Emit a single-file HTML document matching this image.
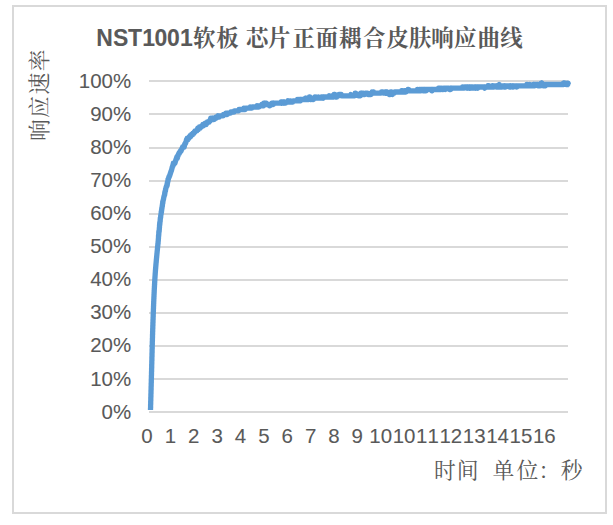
<!DOCTYPE html>
<html lang="zh"><head><meta charset="utf-8"><title>NST1001 response curve</title>
<style>html,body{margin:0;padding:0;background:#fff}body{width:613px;height:525px;overflow:hidden}svg{display:block}text{font-family:"Liberation Sans",sans-serif;fill:#595959}</style></head><body>
<svg width="613" height="525" viewBox="0 0 613 525">
<rect width="613" height="525" fill="#fff"/>
<rect x="13" y="6" width="593" height="507" fill="#fff" stroke="#d9d9d9" stroke-width="2"/>
<g stroke="#d9d9d9" stroke-width="2" shape-rendering="crispEdges">
<line x1="149" x2="568" y1="81" y2="81"/>
<line x1="149" x2="568" y1="114" y2="114"/>
<line x1="149" x2="568" y1="148" y2="148"/>
<line x1="149" x2="568" y1="181" y2="181"/>
<line x1="149" x2="568" y1="214" y2="214"/>
<line x1="149" x2="568" y1="247" y2="247"/>
<line x1="149" x2="568" y1="280" y2="280"/>
<line x1="149" x2="568" y1="313" y2="313"/>
<line x1="149" x2="568" y1="346" y2="346"/>
<line x1="149" x2="568" y1="379" y2="379"/>
<line x1="149" x2="568" y1="412" y2="412"/>
</g>
<text transform="translate(0 87.50) scale(1 1.025)" x="78.77 90.17 101.57 112.97" y="0" font-size="20.5" stroke="#595959" stroke-width="0.08">100%</text>
<text transform="translate(0 120.62) scale(1 1.025)" x="90.17 101.57 112.97" y="0" font-size="20.5" stroke="#595959" stroke-width="0.08">90%</text>
<text transform="translate(0 153.74) scale(1 1.025)" x="90.17 101.57 112.97" y="0" font-size="20.5" stroke="#595959" stroke-width="0.08">80%</text>
<text transform="translate(0 186.86) scale(1 1.025)" x="90.17 101.57 112.97" y="0" font-size="20.5" stroke="#595959" stroke-width="0.08">70%</text>
<text transform="translate(0 219.98) scale(1 1.025)" x="90.17 101.57 112.97" y="0" font-size="20.5" stroke="#595959" stroke-width="0.08">60%</text>
<text transform="translate(0 253.10) scale(1 1.025)" x="90.17 101.57 112.97" y="0" font-size="20.5" stroke="#595959" stroke-width="0.08">50%</text>
<text transform="translate(0 286.22) scale(1 1.025)" x="90.17 101.57 112.97" y="0" font-size="20.5" stroke="#595959" stroke-width="0.08">40%</text>
<text transform="translate(0 319.34) scale(1 1.025)" x="90.17 101.57 112.97" y="0" font-size="20.5" stroke="#595959" stroke-width="0.08">30%</text>
<text transform="translate(0 352.46) scale(1 1.025)" x="90.17 101.57 112.97" y="0" font-size="20.5" stroke="#595959" stroke-width="0.08">20%</text>
<text transform="translate(0 385.58) scale(1 1.025)" x="90.17 101.57 112.97" y="0" font-size="20.5" stroke="#595959" stroke-width="0.08">10%</text>
<text transform="translate(0 418.70) scale(1 1.025)" x="101.57 112.97" y="0" font-size="20.5" stroke="#595959" stroke-width="0.08">0%</text>
<text transform="translate(0 442.60) scale(1 1.025)" x="141.30" y="0" font-size="20.5" stroke="#595959" stroke-width="0.08">0</text>
<text transform="translate(0 442.60) scale(1 1.025)" x="164.67" y="0" font-size="20.5" stroke="#595959" stroke-width="0.08">1</text>
<text transform="translate(0 442.60) scale(1 1.025)" x="188.04" y="0" font-size="20.5" stroke="#595959" stroke-width="0.08">2</text>
<text transform="translate(0 442.60) scale(1 1.025)" x="211.41" y="0" font-size="20.5" stroke="#595959" stroke-width="0.08">3</text>
<text transform="translate(0 442.60) scale(1 1.025)" x="234.78" y="0" font-size="20.5" stroke="#595959" stroke-width="0.08">4</text>
<text transform="translate(0 442.60) scale(1 1.025)" x="258.15" y="0" font-size="20.5" stroke="#595959" stroke-width="0.08">5</text>
<text transform="translate(0 442.60) scale(1 1.025)" x="281.52" y="0" font-size="20.5" stroke="#595959" stroke-width="0.08">6</text>
<text transform="translate(0 442.60) scale(1 1.025)" x="304.89" y="0" font-size="20.5" stroke="#595959" stroke-width="0.08">7</text>
<text transform="translate(0 442.60) scale(1 1.025)" x="328.26" y="0" font-size="20.5" stroke="#595959" stroke-width="0.08">8</text>
<text transform="translate(0 442.60) scale(1 1.025)" x="351.63" y="0" font-size="20.5" stroke="#595959" stroke-width="0.08">9</text>
<text transform="translate(0 442.60) scale(1 1.025)" x="369.30 380.70" y="0" font-size="20.5" stroke="#595959" stroke-width="0.08">10</text>
<text transform="translate(0 442.60) scale(1 1.025)" x="392.67 404.07" y="0" font-size="20.5" stroke="#595959" stroke-width="0.08">10</text>
<text transform="translate(0 442.60) scale(1 1.025)" x="416.04 427.44" y="0" font-size="20.5" stroke="#595959" stroke-width="0.08">11</text>
<text transform="translate(0 442.60) scale(1 1.025)" x="439.41 450.81" y="0" font-size="20.5" stroke="#595959" stroke-width="0.08">12</text>
<text transform="translate(0 442.60) scale(1 1.025)" x="462.78 474.18" y="0" font-size="20.5" stroke="#595959" stroke-width="0.08">13</text>
<text transform="translate(0 442.60) scale(1 1.025)" x="486.15 497.55" y="0" font-size="20.5" stroke="#595959" stroke-width="0.08">14</text>
<text transform="translate(0 442.60) scale(1 1.025)" x="509.52 520.92" y="0" font-size="20.5" stroke="#595959" stroke-width="0.08">15</text>
<text transform="translate(0 442.60) scale(1 1.025)" x="532.89 544.29" y="0" font-size="20.5" stroke="#595959" stroke-width="0.08">16</text>
<text transform="translate(0 45.60) scale(1 1.025)" x="96.30 113.10 128.05 142.15 154.40 167.10 180.10" y="0" font-size="23" font-weight="bold" stroke="#595959" stroke-width="0.08">NST1001</text>
<text x="193.05 216.15 238 246.1 268.1 292.4 315.8 339.0 362.9 386.4 409.0 431.2 453.9 477.4 500.2" y="45.96" font-size="22.4" font-weight="bold" fill="#595959" style="font-family:'Liberation Serif','Noto Serif CJK SC',serif">软板 芯片正面耦合皮肤响应曲线</text>
<text x="433.9 456.8 478 492.4 516.4 538.6 560.65" y="477.58" font-size="21.8" fill="#595959" style="font-family:'Liberation Serif','Noto Serif CJK SC',serif">时间 单位：秒</text>
<text transform="rotate(-90)" x="-141.0 -117.95 -94.4 -71.35" y="46.58" font-size="21.8" fill="#595959" style="font-family:'Liberation Serif','Noto Serif CJK SC',serif">响应速率</text>
<path d="M150.5 410.0L150.5 409.7L150.5 409.4L150.5 409.1L150.5 408.8L150.5 408.5L150.5 408.2L150.6 407.9L150.6 407.6L150.6 407.3L150.6 407.0L150.6 406.7L150.6 406.4L150.6 406.1L150.6 405.8L150.6 405.5L150.6 405.2L150.6 404.9L150.6 404.6L150.7 404.3L150.7 404.0L150.7 403.7L150.7 403.4L150.7 403.1L150.7 402.8L150.7 402.5L150.7 402.2L150.7 401.9L150.7 401.6L150.7 401.3L150.7 401.0L150.8 400.7L150.8 400.4L150.8 400.1L150.8 399.8L150.8 399.5L150.8 399.2L150.8 398.9L150.8 398.6L150.8 398.3L150.8 398.0L150.8 397.7L150.8 397.4L150.9 397.1L150.9 396.8L150.9 396.5L150.9 396.2L150.9 395.9L150.9 395.6L150.9 395.3L150.9 395.0L150.9 394.7L150.9 394.4L150.9 394.1L150.9 393.8L151.0 393.5L151.0 393.2L151.0 392.9L151.0 392.6L151.0 392.3L151.0 392.0L151.0 391.7L151.0 391.4L151.0 391.1L151.0 390.8L151.0 390.5L151.0 390.2L151.1 389.9L151.1 389.6L151.1 389.3L151.1 389.0L151.1 388.7L151.1 388.4L151.1 388.1L151.1 387.8L151.1 387.5L151.1 387.2L151.1 386.9L151.1 386.6L151.2 386.3L151.2 386.0L151.2 385.7L151.2 385.4L151.2 385.1L151.2 384.8L151.2 384.5L151.2 384.2L151.2 383.9L151.2 383.6L151.2 383.3L151.2 383.0L151.3 382.7L151.3 382.4L151.3 382.1L151.3 381.8L151.3 381.5L151.3 381.2L151.3 380.9L151.3 380.6L151.3 380.3L151.3 380.0L151.3 379.7L151.3 379.4L151.3 379.1L151.4 378.8L151.4 378.5L151.4 378.2L151.4 377.9L151.4 377.6L151.4 377.3L151.4 377.0L151.4 376.7L151.4 376.4L151.4 376.1L151.4 375.8L151.4 375.5L151.5 375.2L151.5 374.9L151.5 374.6L151.5 374.3L151.5 374.0L151.5 373.7L151.5 373.4L151.5 373.1L151.5 372.8L151.5 372.5L151.5 372.2L151.5 371.9L151.6 371.6L151.6 371.3L151.6 371.0L151.6 370.7L151.6 370.4L151.6 370.1L151.6 369.8L151.6 369.5L151.6 369.2L151.6 368.9L151.6 368.6L151.6 368.3L151.7 368.0L151.7 367.7L151.7 367.4L151.7 367.1L151.7 366.8L151.7 366.5L151.7 366.2L151.7 365.9L151.7 365.6L151.7 365.3L151.7 365.0L151.7 364.7L151.7 364.4L151.8 364.1L151.8 363.8L151.8 363.5L151.8 363.2L151.8 362.9L151.8 362.6L151.8 362.3L151.8 362.0L151.8 361.7L151.8 361.4L151.8 361.1L151.8 360.8L151.9 360.5L151.9 360.2L151.9 359.9L151.9 359.6L151.9 359.3L151.9 359.0L151.9 358.7L151.9 358.4L151.9 358.1L151.9 357.8L151.9 357.5L151.9 357.2L151.9 356.9L152.0 356.6L152.0 356.3L152.0 356.0L152.0 355.7L152.0 355.4L152.0 355.1L152.0 354.8L152.0 354.5L152.0 354.2L152.0 353.9L152.0 353.6L152.0 353.3L152.0 353.0L152.1 352.7L152.1 352.4L152.1 352.1L152.1 351.8L152.1 351.5L152.1 351.2L152.1 350.9L152.1 350.6L152.1 350.3L152.1 350.0L152.1 349.7L152.1 349.4L152.1 349.1L152.2 348.8L152.2 348.5L152.2 348.2L152.2 347.9L152.2 347.6L152.2 347.3L152.2 347.0L152.2 346.7L152.2 346.4L152.2 346.1L152.2 345.8L152.2 345.5L152.2 345.2L152.3 344.9L152.3 344.6L152.3 344.3L152.3 344.0L152.3 343.7L152.3 343.4L152.3 343.1L152.3 342.8L152.3 342.5L152.3 342.2L152.3 341.9L152.3 341.6L152.4 341.3L152.4 341.0L152.4 340.7L152.4 340.4L152.4 340.1L152.4 339.8L152.4 339.5L152.4 339.2L152.4 338.9L152.4 338.6L152.4 338.3L152.5 338.0L152.5 337.7L152.5 337.4L152.5 337.1L152.5 336.8L152.5 336.5L152.5 336.2L152.5 335.9L152.5 335.6L152.5 335.3L152.5 335.0L152.5 334.7L152.6 334.4L152.6 334.1L152.6 333.8L152.6 333.5L152.6 333.2L152.6 332.9L152.6 332.6L152.6 332.3L152.6 332.0L152.6 331.7L152.7 331.4L152.7 331.1L152.7 330.8L152.7 330.5L152.7 330.2L152.7 329.9L152.7 329.6L152.7 329.3L152.7 329.0L152.7 328.7L152.8 328.4L152.8 328.1L152.8 327.8L152.8 327.5L152.8 327.2L152.8 326.9L152.8 326.6L152.8 326.3L152.8 326.0L152.8 325.7L152.9 325.4L152.9 325.1L152.9 324.8L152.9 324.5L152.9 324.2L152.9 323.9L152.9 323.6L152.9 323.3L152.9 323.0L152.9 322.7L153.0 322.4L153.0 322.1L153.0 321.8L153.0 321.5L153.0 321.2L153.0 320.9L153.0 320.6L153.0 320.3L153.0 320.0L153.0 319.7L153.1 319.4L153.1 319.1L153.1 318.8L153.1 318.5L153.1 318.2L153.1 317.9L153.1 317.6L153.1 317.3L153.1 317.0L153.2 316.7L153.2 316.4L153.2 316.1L153.2 315.8L153.2 315.5L153.2 315.2L153.2 314.9L153.2 314.6L153.2 314.3L153.2 314.0L153.3 313.7L153.3 313.4L153.3 313.1L153.3 312.8L153.3 312.5L153.3 312.2L153.3 311.9L153.3 311.6L153.4 311.3L153.4 311.0L153.4 310.7L153.4 310.4L153.4 310.1L153.4 309.8L153.4 309.5L153.4 309.2L153.4 308.9L153.5 308.6L153.5 308.3L153.5 308.0L153.5 307.7L153.5 307.4L153.5 307.1L153.5 306.8L153.5 306.5L153.5 306.2L153.6 305.9L153.6 305.6L153.6 305.3L153.6 305.0L153.6 304.7L153.6 304.4L153.6 304.1L153.6 303.8L153.7 303.5L153.7 303.2L153.7 302.9L153.7 302.6L153.7 302.3L153.7 302.0L153.7 301.7L153.7 301.4L153.8 301.1L153.8 300.8L153.8 300.5L153.8 300.2L153.8 299.9L153.8 299.6L153.8 299.3L153.8 299.0L153.9 298.7L153.9 298.4L153.9 298.1L153.9 297.8L153.9 297.5L153.9 297.2L153.9 296.9L154.0 296.6L154.0 296.3L154.0 296.0L154.0 295.7L154.0 295.4L154.0 295.1L154.0 294.8L154.0 294.5L154.1 294.2L154.1 294.0L154.1 293.7L154.1 293.4L154.1 293.1L154.1 292.8L154.1 292.5L154.2 292.2L154.2 291.9L154.2 291.6L154.2 291.3L154.2 291.0L154.2 290.7L154.2 290.4L154.3 290.1L154.3 289.8L154.3 289.5L154.3 289.2L154.3 288.9L154.3 288.6L154.4 288.3L154.4 288.0L154.4 287.7L154.4 287.4L154.4 287.1L154.4 286.8L154.4 286.5L154.5 286.2L154.5 285.9L154.5 285.6L154.5 285.3L154.5 285.0L154.5 284.7L154.6 284.4L154.6 284.1L154.6 283.8L154.6 283.5L154.6 283.2L154.6 282.9L154.7 282.6L154.7 282.3L154.7 282.0L154.7 281.7L154.7 281.4L154.7 281.1L154.8 280.8L154.8 280.5L154.8 280.2L154.8 279.9L154.8 279.6L154.8 279.3L154.9 279.0L154.9 278.7L154.9 278.4L154.9 278.1L154.9 277.8L155.0 277.5L155.0 277.2L155.0 276.9L155.0 276.6L155.0 276.3L155.1 276.0L155.1 275.7L155.1 275.4L155.1 275.1L155.1 274.8L155.2 274.5L155.2 274.2L155.2 273.9L155.2 273.6L155.2 273.3L155.3 273.0L155.3 272.7L155.3 272.4L155.3 272.1L155.4 271.8L155.4 271.5L155.4 271.2L155.4 270.9L155.4 270.6L155.5 270.3L155.5 270.0L155.5 269.7L155.5 269.4L155.6 269.1L155.6 268.8L155.6 268.5L155.6 268.2L155.7 267.9L155.7 267.6L155.7 267.3L155.7 267.0L155.8 266.7L155.8 266.4L155.8 266.1L155.8 265.8L155.9 265.5L155.9 265.2L155.9 264.9L155.9 264.6L156.0 264.3L156.0 264.0L156.0 263.7L156.0 263.4L156.1 263.1L156.1 262.8L156.1 262.5L156.2 262.2L156.2 261.9L156.2 261.6L156.2 261.3L156.3 261.0L156.3 260.7L156.3 260.4L156.3 260.1L156.4 259.8L156.4 259.5L156.4 259.2L156.5 258.9L156.5 258.6L156.5 258.3L156.5 258.0L156.6 257.7L156.6 257.4L156.6 257.2L156.7 256.9L156.7 256.6L156.7 256.3L156.7 256.0L156.8 255.7L156.8 255.4L156.8 255.1L156.9 254.8L156.9 254.5L156.9 254.2L156.9 253.9L157.0 253.6L157.0 253.3L157.0 253.0L157.1 252.7L157.1 252.4L157.1 252.1L157.1 251.8L157.2 251.5L157.2 251.2L157.2 250.9L157.3 250.6L157.3 250.3L157.3 250.0L157.4 249.7L157.4 249.4L157.4 249.1L157.4 248.8L157.5 248.5L157.5 248.2L157.5 247.9L157.6 247.6L157.6 247.3L157.6 247.0L157.6 246.7L157.7 246.4L157.7 246.1L157.7 245.8L157.8 245.5L157.8 245.2L157.8 244.9L157.9 244.6L157.9 244.3L157.9 244.0L157.9 243.7L158.0 243.4L158.0 243.1L158.0 243.2L158.1 243.2L158.1 242.0L158.1 242.0L158.1 242.0L158.2 240.8L158.2 240.8L158.2 240.8L158.3 240.8L158.3 240.8L158.3 239.5L158.3 239.5L158.4 239.5L158.4 238.2L158.4 238.2L158.5 238.2L158.5 238.2L158.5 238.2L158.5 235.8L158.6 235.8L158.6 235.8L158.6 235.8L158.7 234.5L158.7 235.8L158.7 235.8L158.7 234.5L158.8 234.5L158.8 233.2L158.8 233.2L158.8 232.0L158.9 233.2L158.9 232.0L158.9 232.0L159.0 232.0L159.0 230.8L159.0 232.0L159.0 232.0L159.1 232.0L159.1 232.0L159.1 232.0L159.2 230.8L159.2 230.8L159.2 230.8L159.2 230.8L159.3 229.5L159.3 229.5L159.3 229.5L159.3 228.2L159.4 228.2L159.4 228.2L159.4 228.2L159.5 227.0L159.5 227.0L159.5 227.0L159.5 225.8L159.6 224.5L159.6 224.5L159.6 224.5L159.7 224.5L159.7 223.2L159.7 224.5L159.8 224.5L159.8 223.2L159.8 223.2L159.9 223.2L159.9 223.2L159.9 222.0L159.9 223.2L160.0 222.0L160.0 222.0L160.0 222.0L160.1 222.0L160.1 222.0L160.1 222.0L160.2 220.8L160.2 220.8L160.2 219.5L160.3 219.5L160.3 219.5L160.3 218.2L160.4 218.2L160.4 218.2L160.4 218.2L160.5 218.2L160.5 218.2L160.6 217.0L160.6 217.0L160.6 217.0L160.7 217.0L160.7 215.8L160.7 215.8L160.8 215.8L160.8 215.8L160.9 214.5L160.9 214.5L160.9 214.5L161.0 214.5L161.0 214.5L161.1 213.2L161.1 213.2L161.1 213.2L161.2 213.2L161.2 212.0L161.3 212.0L161.3 212.0L161.4 212.0L161.4 212.0L161.4 212.0L161.5 212.0L161.5 212.0L161.6 209.5L161.6 209.5L161.7 209.5L161.7 209.5L161.8 209.5L161.8 208.2L161.9 208.2L161.9 208.2L162.0 208.2L162.0 208.2L162.1 207.0L162.1 207.0L162.2 205.8L162.2 205.8L162.3 205.8L162.3 205.8L162.4 205.8L162.4 204.5L162.5 204.5L162.5 204.5L162.6 203.2L162.6 203.2L162.7 203.2L162.7 202.0L162.8 203.2L162.8 203.2L162.9 202.0L163.0 200.8L163.0 200.8L163.1 200.8L163.1 200.8L163.2 200.8L163.2 200.8L163.3 199.5L163.4 199.5L163.4 199.5L163.5 199.5L163.5 199.5L163.6 198.2L163.7 198.2L163.7 198.2L163.8 197.0L163.8 197.0L163.9 197.0L164.0 197.0L164.0 197.0L164.1 195.8L164.1 195.8L164.2 195.8L164.3 195.8L164.3 195.8L164.4 195.8L164.5 194.5L164.5 194.5L164.6 194.5L164.7 194.5L164.7 193.2L164.8 193.2L164.9 193.2L164.9 192.0L165.0 192.0L165.1 192.0L165.1 192.0L165.2 190.8L165.3 190.8L165.3 190.8L165.4 190.8L165.5 190.8L165.5 189.5L165.6 189.5L165.7 189.5L165.7 189.5L165.8 188.2L165.9 188.2L166.0 188.2L166.0 188.2L166.1 187.0L166.2 187.0L166.2 187.0L166.3 187.0L166.4 187.0L166.5 185.8L166.5 185.8L166.6 185.8L166.7 185.8L166.7 185.8L166.8 185.8L166.9 185.8L167.0 185.8L167.0 184.5L167.1 184.5L167.2 184.5L167.3 184.5L167.3 183.2L167.4 182.0L167.5 183.2L167.6 182.0L167.7 182.0L167.7 182.0L167.8 182.0L167.9 180.8L168.0 180.8L168.0 179.5L168.1 179.5L168.2 179.5L168.3 179.5L168.4 179.5L168.5 178.2L168.6 178.2L168.6 178.2L168.7 178.2L168.8 177.0L168.9 177.0L169.0 177.0L169.1 177.0L169.2 177.0L169.3 177.0L169.4 175.8L169.5 175.8L169.6 175.8L169.7 175.8L169.8 175.8L169.9 174.5L170.0 174.5L170.1 174.5L170.2 174.5L170.3 173.2L170.4 173.2L170.5 173.2L170.6 173.2L170.7 172.0L170.8 172.0L170.9 172.0L171.0 172.0L171.1 170.8L171.3 170.8L171.4 170.8L171.5 170.8L171.6 169.5L171.7 169.5L171.8 169.5L171.9 168.2L172.0 168.2L172.1 168.2L172.2 167.0L172.3 167.0L172.4 167.0L172.6 167.0L172.7 165.8L172.8 165.8L172.9 165.8L173.0 164.5L173.1 165.8L173.2 164.5L173.3 163.2L173.4 163.2L173.6 164.5L173.7 164.5L173.8 164.5L173.9 163.2L174.0 163.2L174.1 163.2L174.3 163.2L174.4 163.2L174.5 163.2L174.6 163.2L174.7 163.2L174.9 163.2L175.0 163.2L175.1 162.0L175.2 162.0L175.3 162.0L175.5 160.8L175.6 160.8L175.7 160.8L175.9 159.5L176.0 159.5L176.1 159.5L176.2 159.5L176.4 158.2L176.5 158.2L176.6 158.2L176.8 157.0L176.9 158.2L177.0 158.2L177.2 158.2L177.3 158.2L177.5 157.0L177.6 155.8L177.7 155.8L177.9 155.8L178.0 155.8L178.2 155.8L178.3 154.5L178.5 154.5L178.6 154.5L178.8 154.5L178.9 153.2L179.1 153.2L179.2 153.2L179.4 153.2L179.5 153.2L179.7 152.0L179.8 152.0L180.0 152.0L180.1 152.0L180.3 152.0L180.4 150.8L180.6 150.8L180.7 150.8L180.9 150.8L181.1 150.8L181.2 150.8L181.4 149.5L181.5 149.5L181.7 149.5L181.8 149.5L182.0 148.2L182.2 148.2L182.3 148.2L182.5 148.2L182.6 147.0L182.8 147.0L182.9 147.0L183.1 147.0L183.3 147.0L183.4 147.0L183.6 147.0L183.7 147.0L183.9 147.0L184.1 147.0L184.2 147.0L184.4 145.8L184.5 144.5L184.7 144.5L184.9 144.5L185.0 144.5L185.2 143.2L185.3 143.2L185.5 143.2L185.7 143.2L185.8 142.0L186.0 142.0L186.2 142.0L186.3 140.8L186.5 139.5L186.7 139.5L186.8 139.5L187.0 139.5L187.2 139.5L187.3 138.2L187.5 139.5L187.7 139.5L187.9 139.5L188.0 139.5L188.2 138.2L188.4 138.2L188.6 138.2L188.8 138.2L188.9 138.2L189.1 137.0L189.3 137.0L189.5 137.0L189.7 137.0L189.9 137.0L190.1 135.8L190.3 137.0L190.5 135.8L190.7 135.8L190.9 135.8L191.1 135.8L191.3 135.8L191.5 134.5L191.7 134.5L191.9 134.5L192.1 134.5L192.3 134.5L192.5 134.5L192.7 134.5L192.9 133.2L193.1 133.2L193.3 133.2L193.6 133.2L193.8 133.2L194.0 133.2L194.2 132.0L194.4 132.0L194.6 132.0L194.9 132.0L195.1 130.8L195.3 130.8L195.5 130.8L195.8 130.8L196.0 130.8L196.2 130.8L196.4 130.8L196.7 130.8L196.9 130.8L197.1 129.5L197.3 129.5L197.6 129.5L197.8 128.2L198.0 129.5L198.3 129.5L198.5 128.2L198.7 128.2L199.0 128.2L199.2 128.2L199.4 127.0L199.6 128.2L199.9 128.2L200.1 127.0L200.4 127.0L200.6 127.0L200.8 127.0L201.1 127.0L201.3 127.0L201.6 125.8L201.8 125.8L202.0 125.8L202.3 125.8L202.5 125.8L202.8 124.5L203.0 124.5L203.3 125.8L203.5 124.5L203.8 124.5L204.0 124.5L204.3 124.5L204.5 124.5L204.8 124.5L205.0 124.5L205.3 123.2L205.6 124.5L205.8 124.5L206.1 124.5L206.3 123.2L206.6 123.2L206.8 123.2L207.1 123.2L207.3 122.0L207.6 122.0L207.9 122.0L208.1 122.0L208.4 122.0L208.6 122.0L208.9 122.0L209.2 122.0L209.4 120.8L209.7 120.8L209.9 120.8L210.2 120.8L210.5 119.5L210.7 118.2L211.0 118.2L211.3 118.2L211.5 118.2L211.8 118.2L212.1 118.2L212.3 118.2L212.6 119.5L212.9 118.2L213.2 119.5L213.4 119.5L213.7 118.2L214.0 118.2L214.2 119.5L214.5 118.2L214.8 118.2L215.1 118.2L215.3 118.2L215.6 118.2L215.9 118.2L216.2 117.0L216.4 118.2L216.7 117.0L217.0 117.0L217.3 117.0L217.5 117.0L217.8 117.0L218.1 115.8L218.4 117.0L218.6 117.0L218.9 117.0L219.2 117.0L219.5 115.8L219.8 115.8L220.0 115.8L220.3 115.8L220.6 115.8L220.9 115.8L221.1 115.8L221.4 115.8L221.7 115.8L222.0 115.8L222.3 115.8L222.5 115.8L222.8 115.8L223.1 115.8L223.4 114.5L223.7 114.5L224.0 114.5L224.2 114.5L224.5 114.5L224.8 114.5L225.1 114.5L225.4 114.5L225.7 114.5L226.0 113.2L226.2 114.5L226.5 113.2L226.8 113.2L227.1 113.2L227.4 114.5L227.7 113.2L228.0 113.2L228.2 113.2L228.5 113.2L228.8 113.2L229.1 113.2L229.4 113.2L229.7 113.2L230.0 113.2L230.2 113.2L230.5 113.2L230.8 112.0L231.1 112.0L231.4 112.0L231.7 112.0L232.0 112.0L232.3 112.0L232.5 112.0L232.8 112.0L233.1 112.0L233.4 112.0L233.7 112.0L234.0 112.0L234.3 110.8L234.6 110.8L234.8 110.8L235.1 110.8L235.4 110.8L235.7 110.8L236.0 110.8L236.3 110.8L236.6 110.8L236.9 110.8L237.2 110.8L237.4 110.8L237.7 110.8L238.0 110.8L238.3 110.8L238.6 110.8L238.9 109.5L239.2 109.5L239.5 109.5L239.8 109.5L240.1 109.5L240.4 109.5L240.6 109.5L240.9 109.5L241.2 109.5L241.5 109.5L241.8 109.5L242.1 109.5L242.4 109.5L242.7 109.5L243.0 109.5L243.3 109.5L243.6 109.5L243.9 108.2L244.2 109.5L244.4 109.5L244.7 109.5L245.0 109.5L245.3 109.5L245.6 108.2L245.9 108.2L246.2 108.2L246.5 108.2L246.8 108.2L247.1 108.2L247.4 108.2L247.7 108.2L248.0 108.2L248.3 108.2L248.6 108.2L248.9 108.2L249.2 108.2L249.5 108.2L249.7 108.2L250.0 108.2L250.3 107.0L250.6 108.2L250.9 108.2L251.2 108.2L251.5 108.2L251.8 108.2L252.1 107.0L252.4 107.0L252.7 107.0L253.0 107.0L253.3 107.0L253.6 107.0L253.9 107.0L254.2 107.0L254.5 107.0L254.7 107.0L255.0 107.0L255.3 107.0L255.6 107.0L255.9 107.0L256.2 107.0L256.5 107.0L256.8 107.0L257.1 105.8L257.4 107.0L257.7 107.0L258.0 105.8L258.3 105.8L258.6 105.8L258.9 107.0L259.2 105.8L259.5 105.8L259.8 105.8L260.0 105.8L260.3 105.8L260.6 105.8L260.9 105.8L261.2 105.8L261.5 105.8L261.8 104.5L262.1 105.8L262.4 104.5L262.7 105.8L263.0 105.8L263.3 104.5L263.6 105.8L263.9 103.2L264.2 104.5L264.5 103.2L264.8 103.2L265.1 104.5L265.4 104.5L265.7 103.2L266.0 104.5L266.3 103.2L266.6 104.5L266.9 104.5L267.2 104.5L267.5 104.5L267.8 104.5L268.0 104.5L268.3 104.5L268.6 104.5L268.9 104.5L269.2 104.5L269.5 105.8L269.8 105.8L270.1 104.5L270.4 104.5L270.7 104.5L271.0 104.5L271.3 104.5L271.6 104.5L271.9 103.2L272.2 104.5L272.5 104.5L272.8 104.5L273.1 103.2L273.4 104.5L273.7 103.2L274.0 103.2L274.3 103.2L274.6 103.2L274.9 103.2L275.2 103.2L275.5 103.2L275.8 103.2L276.1 103.2L276.4 103.2L276.7 103.2L277.0 103.2L277.3 103.2L277.6 103.2L277.9 103.2L278.1 103.2L278.4 103.2L278.7 103.2L279.0 103.2L279.3 103.2L279.6 103.2L279.9 103.2L280.2 103.2L280.5 103.2L280.8 103.2L281.1 102.0L281.4 103.2L281.7 102.0L282.0 103.2L282.3 102.0L282.6 102.0L282.9 102.0L283.2 102.0L283.5 102.0L283.8 102.0L284.1 103.2L284.4 102.0L284.7 103.2L285.0 103.2L285.3 103.2L285.6 103.2L285.9 102.0L286.2 102.0L286.5 102.0L286.8 102.0L287.1 102.0L287.4 102.0L287.7 102.0L288.0 100.8L288.3 102.0L288.6 102.0L288.8 102.0L289.1 102.0L289.4 102.0L289.7 102.0L290.0 100.8L290.3 100.8L290.6 100.8L290.9 102.0L291.2 102.0L291.5 102.0L291.8 102.0L292.1 102.0L292.4 102.0L292.7 102.0L293.0 100.8L293.3 100.8L293.6 100.8L293.9 100.8L294.2 100.8L294.5 100.8L294.8 100.8L295.1 100.8L295.3 100.8L295.6 100.8L295.9 100.8L296.2 100.8L296.5 100.8L296.8 100.8L297.1 100.8L297.4 99.5L297.7 100.8L298.0 100.8L298.3 100.8L298.6 99.5L298.9 100.8L299.2 100.8L299.5 99.5L299.8 99.5L300.1 99.5L300.4 100.8L300.7 99.5L301.0 99.5L301.3 99.5L301.6 99.5L301.8 99.5L302.1 99.5L302.4 99.5L302.7 99.5L303.0 99.5L303.3 99.5L303.6 99.5L303.9 99.5L304.2 99.5L304.5 99.5L304.8 99.5L305.1 99.5L305.4 98.2L305.7 99.5L306.0 98.2L306.3 98.2L306.6 99.5L306.9 99.5L307.2 99.5L307.5 98.2L307.8 99.5L308.1 99.5L308.4 99.5L308.7 99.5L309.0 98.2L309.3 97.0L309.6 97.0L309.9 97.0L310.2 98.2L310.5 99.5L310.8 98.2L311.1 98.2L311.4 99.5L311.7 98.2L312.0 98.2L312.3 98.2L312.6 99.5L312.9 99.5L313.2 99.5L313.5 99.5L313.8 98.2L314.1 98.2L314.4 98.2L314.7 98.2L315.0 97.0L315.3 98.2L315.6 98.2L315.9 98.2L316.2 97.0L316.5 98.2L316.8 98.2L317.1 98.2L317.4 98.2L317.7 98.2L318.0 98.2L318.3 98.2L318.6 97.0L318.9 98.2L319.2 98.2L319.5 98.2L319.8 98.2L320.1 98.2L320.4 98.2L320.7 98.2L321.0 98.2L321.3 97.0L321.6 97.0L321.9 98.2L322.2 98.2L322.5 97.0L322.8 97.0L323.0 97.0L323.3 98.2L323.6 97.0L323.9 97.0L324.2 97.0L324.5 97.0L324.8 97.0L325.1 97.0L325.4 97.0L325.7 97.0L326.0 97.0L326.3 97.0L326.6 97.0L326.9 97.0L327.2 97.0L327.5 97.0L327.8 97.0L328.1 97.0L328.4 97.0L328.7 97.0L329.0 97.0L329.3 95.8L329.6 97.0L329.9 97.0L330.2 97.0L330.5 97.0L330.8 97.0L331.1 97.0L331.4 97.0L331.7 97.0L332.0 97.0L332.3 95.8L332.6 97.0L332.9 97.0L333.2 97.0L333.5 97.0L333.8 97.0L334.1 94.5L334.4 95.8L334.7 95.8L335.0 95.8L335.3 94.5L335.6 95.8L335.9 97.0L336.2 95.8L336.5 97.0L336.8 97.0L337.1 95.8L337.4 95.8L337.7 95.8L338.0 95.8L338.3 95.8L338.6 95.8L338.9 94.5L339.2 94.5L339.5 94.5L339.8 94.5L340.1 94.5L340.4 94.5L340.7 94.5L341.0 94.5L341.3 94.5L341.6 95.8L341.9 95.8L342.2 95.8L342.5 95.8L342.8 95.8L343.1 95.8L343.4 95.8L343.7 95.8L344.0 95.8L344.3 95.8L344.6 95.8L344.9 95.8L345.2 95.8L345.5 95.8L345.8 95.8L346.1 95.8L346.4 95.8L346.7 95.8L347.0 95.8L347.3 95.8L347.6 95.8L347.9 95.8L348.2 95.8L348.5 95.8L348.8 95.8L349.1 95.8L349.4 95.8L349.7 95.8L350.0 95.8L350.3 95.8L350.6 95.8L350.9 94.5L351.2 95.8L351.5 95.8L351.8 95.8L352.1 95.8L352.4 95.8L352.7 95.8L353.0 95.8L353.3 95.8L353.6 95.8L353.9 95.8L354.2 95.8L354.5 95.8L354.8 95.8L355.1 93.2L355.4 93.2L355.7 93.2L356.0 94.5L356.3 94.5L356.6 94.5L356.9 94.5L357.2 94.5L357.5 94.5L357.8 94.5L358.1 94.5L358.4 95.8L358.7 95.8L359.0 95.8L359.3 95.8L359.6 95.8L359.9 95.8L360.2 95.8L360.5 95.8L360.8 93.2L361.1 94.5L361.4 93.2L361.7 93.2L362.0 93.2L362.3 93.2L362.6 93.2L362.9 93.2L363.2 93.2L363.5 93.2L363.7 94.5L364.0 94.5L364.3 94.5L364.6 94.5L364.9 94.5L365.2 93.2L365.5 93.2L365.8 93.2L366.1 93.2L366.4 93.2L366.7 93.2L367.0 93.2L367.3 93.2L367.6 93.2L367.9 94.5L368.2 94.5L368.5 94.5L368.8 94.5L369.1 94.5L369.4 94.5L369.7 94.5L370.0 94.5L370.3 94.5L370.6 94.5L370.9 93.2L371.2 94.5L371.5 93.2L371.8 93.2L372.1 92.0L372.4 93.2L372.7 93.2L373.0 92.0L373.3 92.0L373.6 92.0L373.9 93.2L374.2 93.2L374.5 93.2L374.8 93.2L375.1 93.2L375.4 93.2L375.7 93.2L376.0 93.2L376.3 93.2L376.6 93.2L376.9 93.2L377.2 93.2L377.5 93.2L377.8 93.2L378.1 93.2L378.4 93.2L378.7 93.2L379.0 93.2L379.3 93.2L379.6 93.2L379.9 93.2L380.2 93.2L380.5 93.2L380.8 93.2L381.1 93.2L381.4 92.0L381.7 92.0L382.0 92.0L382.3 92.0L382.6 92.0L382.9 92.0L383.2 93.2L383.5 93.2L383.8 93.2L384.1 93.2L384.4 93.2L384.7 93.2L385.0 93.2L385.3 92.0L385.6 93.2L385.9 92.0L386.2 93.2L386.5 92.0L386.8 92.0L387.1 93.2L387.4 92.0L387.7 93.2L388.0 93.2L388.3 93.2L388.6 93.2L388.9 93.2L389.2 94.5L389.5 93.2L389.8 93.2L390.1 93.2L390.4 94.5L390.7 92.0L391.0 92.0L391.3 92.0L391.6 92.0L391.9 93.2L392.2 94.5L392.5 94.5L392.8 93.2L393.1 93.2L393.4 93.2L393.7 93.2L394.0 93.2L394.3 93.2L394.6 92.0L394.9 92.0L395.2 92.0L395.5 92.0L395.8 92.0L396.1 92.0L396.4 92.0L396.7 92.0L397.0 92.0L397.3 92.0L397.6 92.0L397.9 92.0L398.2 92.0L398.5 92.0L398.8 92.0L399.1 92.0L399.4 92.0L399.7 92.0L400.0 92.0L400.3 92.0L400.6 92.0L400.9 92.0L401.2 92.0L401.5 92.0L401.7 90.8L402.0 92.0L402.3 92.0L402.6 92.0L402.9 92.0L403.2 90.8L403.5 92.0L403.8 92.0L404.1 92.0L404.4 92.0L404.7 90.8L405.0 92.0L405.3 92.0L405.6 90.8L405.9 92.0L406.2 90.8L406.5 90.8L406.8 90.8L407.1 90.8L407.4 90.8L407.7 90.8L408.0 89.5L408.3 90.8L408.6 90.8L408.9 89.5L409.2 90.8L409.5 90.8L409.8 90.8L410.1 90.8L410.4 90.8L410.7 90.8L411.0 90.8L411.3 90.8L411.6 90.8L411.9 90.8L412.2 90.8L412.5 90.8L412.8 90.8L413.1 90.8L413.4 90.8L413.7 90.8L414.0 90.8L414.3 90.8L414.6 90.8L414.9 90.8L415.2 90.8L415.5 90.8L415.8 90.8L416.1 90.8L416.4 90.8L416.7 90.8L417.0 90.8L417.3 89.5L417.6 89.5L417.9 90.8L418.2 90.8L418.5 90.8L418.8 90.8L419.1 90.8L419.4 89.5L419.7 90.8L420.0 90.8L420.3 89.5L420.6 90.8L420.9 89.5L421.2 89.5L421.5 89.5L421.8 89.5L422.1 89.5L422.4 89.5L422.7 89.5L423.0 90.8L423.3 90.8L423.6 89.5L423.9 89.5L424.2 90.8L424.5 89.5L424.8 89.5L425.1 89.5L425.4 89.5L425.7 90.8L426.0 90.8L426.3 89.5L426.6 89.5L426.9 89.5L427.2 89.5L427.5 89.5L427.8 89.5L428.1 89.5L428.4 89.5L428.7 89.5L429.0 89.5L429.3 89.5L429.6 89.5L429.9 89.5L430.2 89.5L430.5 89.5L430.8 89.5L431.1 89.5L431.4 89.5L431.7 89.5L432.0 90.8L432.3 89.5L432.6 89.5L432.9 89.5L433.2 89.5L433.5 89.5L433.8 89.5L434.1 89.5L434.4 89.5L434.7 89.5L435.0 89.5L435.3 89.5L435.6 89.5L435.9 89.5L436.2 89.5L436.5 89.5L436.7 89.5L437.0 89.5L437.3 89.5L437.6 89.5L437.9 89.5L438.2 89.5L438.5 88.2L438.8 89.5L439.1 89.5L439.4 89.5L439.7 89.5L440.0 88.2L440.3 89.5L440.6 89.5L440.9 89.5L441.2 89.5L441.5 88.2L441.8 88.2L442.1 88.2L442.4 89.5L442.7 89.5L443.0 89.5L443.3 89.5L443.6 88.2L443.9 88.2L444.2 88.2L444.5 88.2L444.8 88.2L445.1 89.5L445.4 89.5L445.7 88.2L446.0 88.2L446.3 88.2L446.6 88.2L446.9 88.2L447.2 88.2L447.5 88.2L447.8 88.2L448.1 88.2L448.4 88.2L448.7 88.2L449.0 88.2L449.3 89.5L449.6 89.5L449.9 89.5L450.2 89.5L450.5 88.2L450.8 89.5L451.1 88.2L451.4 88.2L451.7 88.2L452.0 88.2L452.3 88.2L452.6 88.2L452.9 88.2L453.2 88.2L453.5 88.2L453.8 88.2L454.1 88.2L454.4 88.2L454.7 88.2L455.0 88.2L455.3 88.2L455.6 88.2L455.9 88.2L456.2 88.2L456.5 88.2L456.8 88.2L457.1 88.2L457.4 88.2L457.7 88.2L458.0 88.2L458.3 88.2L458.6 88.2L458.9 88.2L459.2 88.2L459.5 88.2L459.8 88.2L460.1 88.2L460.4 88.2L460.7 88.2L461.0 88.2L461.3 88.2L461.6 88.2L461.9 88.2L462.2 88.2L462.5 87.0L462.8 87.0L463.1 87.0L463.4 88.2L463.7 88.2L464.0 88.2L464.3 88.2L464.6 87.0L464.9 87.0L465.2 87.0L465.5 87.0L465.8 87.0L466.1 87.0L466.4 87.0L466.7 87.0L467.0 87.0L467.3 88.2L467.6 87.0L467.9 87.0L468.2 87.0L468.5 88.2L468.8 88.2L469.1 88.2L469.4 87.0L469.7 88.2L470.0 87.0L470.3 88.2L470.6 87.0L470.9 87.0L471.2 87.0L471.5 87.0L471.8 87.0L472.1 88.2L472.4 88.2L472.7 87.0L473.0 88.2L473.3 88.2L473.6 88.2L473.9 87.0L474.2 87.0L474.5 87.0L474.8 87.0L475.1 87.0L475.4 87.0L475.7 88.2L476.0 87.0L476.3 87.0L476.6 87.0L476.9 87.0L477.2 87.0L477.5 87.0L477.8 88.2L478.1 87.0L478.4 87.0L478.7 87.0L479.0 87.0L479.3 87.0L479.6 87.0L479.9 87.0L480.2 87.0L480.5 87.0L480.8 87.0L481.1 87.0L481.4 87.0L481.7 87.0L482.0 87.0L482.3 87.0L482.6 87.0L482.9 87.0L483.2 87.0L483.5 87.0L483.8 87.0L484.1 87.0L484.4 87.0L484.7 88.2L485.0 87.0L485.3 87.0L485.6 87.0L485.9 87.0L486.2 87.0L486.5 87.0L486.8 87.0L487.1 87.0L487.4 87.0L487.7 87.0L488.0 85.8L488.3 87.0L488.6 85.8L488.9 87.0L489.2 85.8L489.5 87.0L489.8 87.0L490.1 87.0L490.4 87.0L490.7 87.0L491.0 87.0L491.3 87.0L491.6 87.0L491.9 87.0L492.2 87.0L492.5 85.8L492.8 87.0L493.1 85.8L493.4 87.0L493.7 87.0L494.0 87.0L494.3 85.8L494.6 85.8L494.9 85.8L495.2 85.8L495.5 85.8L495.8 85.8L496.1 85.8L496.4 87.0L496.7 87.0L497.0 85.8L497.3 87.0L497.6 87.0L497.9 87.0L498.2 87.0L498.5 87.0L498.8 85.8L499.1 85.8L499.4 84.5L499.7 85.8L500.0 85.8L500.3 87.0L500.6 85.8L500.9 85.8L501.2 87.0L501.5 87.0L501.8 87.0L502.1 87.0L502.4 85.8L502.7 85.8L503.0 85.8L503.3 85.8L503.6 85.8L503.9 85.8L504.2 87.0L504.5 85.8L504.8 87.0L505.1 85.8L505.4 85.8L505.7 87.0L506.0 85.8L506.3 85.8L506.6 85.8L506.9 85.8L507.2 85.8L507.5 85.8L507.8 85.8L508.1 85.8L508.4 85.8L508.7 85.8L509.0 85.8L509.3 85.8L509.6 87.0L509.9 87.0L510.2 87.0L510.5 87.0L510.8 85.8L511.1 87.0L511.4 85.8L511.7 85.8L512.0 85.8L512.3 85.8L512.6 85.8L512.9 87.0L513.2 85.8L513.5 87.0L513.8 85.8L514.1 85.8L514.4 85.8L514.7 85.8L515.0 85.8L515.3 85.8L515.6 85.8L515.9 85.8L516.2 85.8L516.5 85.8L516.8 87.0L517.1 85.8L517.4 85.8L517.7 85.8L518.0 85.8L518.3 85.8L518.6 85.8L518.9 85.8L519.2 85.8L519.5 85.8L519.8 85.8L520.1 85.8L520.4 85.8L520.7 85.8L521.0 85.8L521.3 85.8L521.6 85.8L521.9 85.8L522.2 85.8L522.5 85.8L522.8 85.8L523.1 85.8L523.4 85.8L523.7 85.8L524.0 85.8L524.3 85.8L524.6 85.8L524.9 85.8L525.2 85.8L525.5 85.8L525.8 85.8L526.1 85.8L526.4 85.8L526.7 84.5L527.0 84.5L527.3 84.5L527.6 85.8L527.9 85.8L528.2 85.8L528.5 85.8L528.8 85.8L529.1 85.8L529.4 85.8L529.7 85.8L530.0 84.5L530.3 85.8L530.6 85.8L530.9 85.8L531.2 85.8L531.5 85.8L531.8 85.8L532.1 85.8L532.4 85.8L532.7 85.8L533.0 85.8L533.3 84.5L533.6 84.5L533.9 85.8L534.2 84.5L534.5 85.8L534.8 84.5L535.1 84.5L535.4 84.5L535.7 84.5L536.0 84.5L536.3 84.5L536.6 84.5L536.9 84.5L537.2 84.5L537.5 84.5L537.8 84.5L538.1 85.8L538.4 84.5L538.7 85.8L539.0 84.5L539.3 84.5L539.6 84.5L539.9 85.8L540.2 85.8L540.5 84.5L540.8 84.5L541.1 83.2L541.4 83.2L541.7 84.5L542.0 83.2L542.3 84.5L542.6 84.5L542.9 84.5L543.2 85.8L543.5 85.8L543.8 85.8L544.1 85.8L544.4 85.8L544.7 85.8L545.0 84.5L545.3 85.8L545.6 84.5L545.9 84.5L546.2 84.5L546.5 84.5L546.8 84.5L547.1 84.5L547.4 84.5L547.7 84.5L548.0 84.5L548.3 84.5L548.6 84.5L548.9 84.5L549.2 84.5L549.5 84.5L549.8 84.5L550.1 84.5L550.4 84.5L550.7 84.5L551.0 84.5L551.3 84.5L551.6 84.5L551.9 84.5L552.2 84.5L552.5 84.5L552.8 84.5L553.1 84.5L553.4 84.5L553.7 84.5L554.0 84.5L554.3 84.5L554.6 84.5L554.9 84.5L555.2 84.5L555.5 84.5L555.8 84.5L556.1 84.5L556.4 84.5L556.7 84.5L557.0 84.5L557.3 84.5L557.6 84.5L557.9 84.5L558.2 84.5L558.5 84.5L558.8 84.5L559.1 84.5L559.4 84.5L559.7 84.5L560.0 84.5L560.3 84.5L560.6 84.5L560.9 84.5L561.2 84.5L561.5 84.5L561.8 84.5L562.1 84.5L562.4 84.5L562.7 84.5L563.0 84.5L563.3 83.2L563.6 83.2L563.9 84.5L564.2 83.2L564.5 83.2L564.8 83.2L565.1 83.2L565.4 83.2L565.7 83.2L566.0 84.5L566.3 84.5L566.6 84.5L566.9 84.5L567.2 84.5L567.5 84.5L567.8 84.5L568.1 83.2L568.4 84.5L568.7 84.5L568.8 84.5" fill="none" stroke="#5b9bd5" stroke-width="5.3" stroke-linejoin="round" stroke-linecap="butt"/>
</svg></body></html>
